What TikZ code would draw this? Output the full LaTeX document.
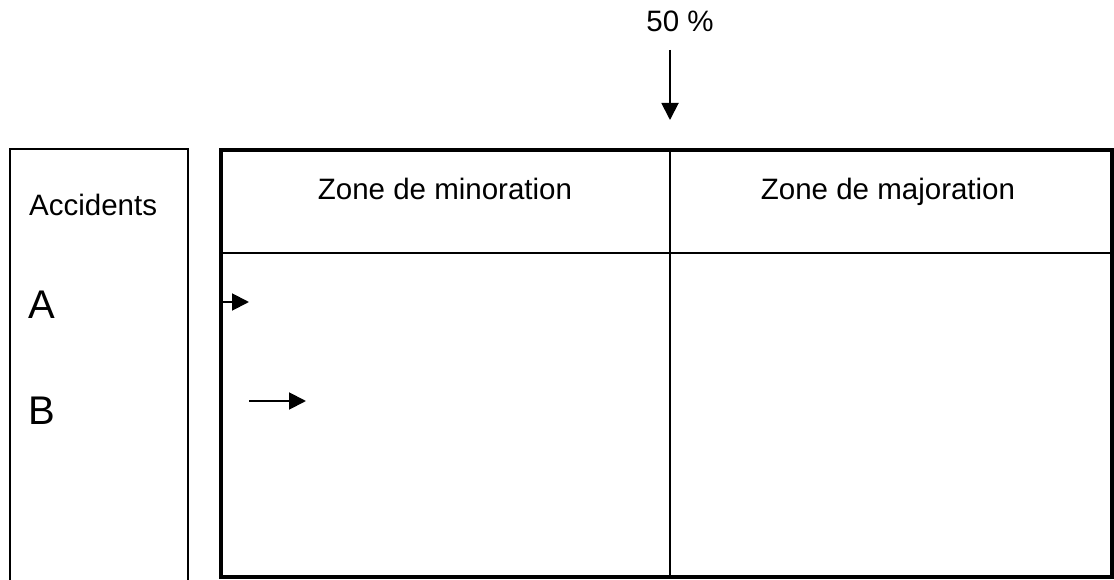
\documentclass[tikz,border=0pt]{standalone}
\usepackage{fontspec}
\setmainfont{Liberation Sans}
\usetikzlibrary{arrows.meta}
\tikzset{
  txt/.style={inner sep=0pt, font=\fontsize{29.5bp}{34bp}\selectfont},
  bigtxt/.style={inner sep=0pt, font=\fontsize{40bp}{46bp}\selectfont},
  thin rule/.style={line width=1.8bp},
  thick rule/.style={line width=4bp},
  pointer/.style={line width=1.9bp, -{Triangle[length=17bp,width=17bp]}}
}
\begin{document}
\begin{tikzpicture}[x=1bp, y=-1bp]
  \useasboundingbox (0,0) rectangle (1114,580);
  \fill[white] (0,0) rectangle (1114,580);
  \clip (0,0) rectangle (1114,580);

  % left column listing the accidents
  \draw[thin rule] (10,600) -- (10,149) -- (188,149) -- (188,600);
  \node[txt, anchor=base west] (acc) at (29,216) {Accidents};
  \node[bigtxt, anchor=base west] (lblA) at (28,319) {A};
  \node[bigtxt, anchor=base west] (lblB) at (28,424) {B};

  % main table
  \draw[thin rule] (670,149) -- (670,577);
  \draw[thin rule] (221,253) -- (1112,253);
  \draw[thick rule] (221,150) rectangle (1112,577);
  \node[txt, anchor=base] (minor) at (445,200) {Zone de minoration};
  \node[txt, anchor=base] (major) at (888,200) {Zone de majoration};

  % 50 % threshold marker
  \node[txt, anchor=base] (pct) at (680,32) {50 \%};
  \coordinate (pcttail) at (670,50);
  \coordinate (pcthead) at (670,120);
  \draw[pointer] (pcttail) -- (pcthead);

  % accident arrows
  \coordinate (aTail) at (222,302);
  \coordinate (aHead) at (249,302);
  \draw[pointer] (aTail) -- (aHead);
  \coordinate (bTail) at (249,401);
  \coordinate (bHead) at (306,401);
  \draw[pointer] (bTail) -- (bHead);
\end{tikzpicture}
\end{document}
